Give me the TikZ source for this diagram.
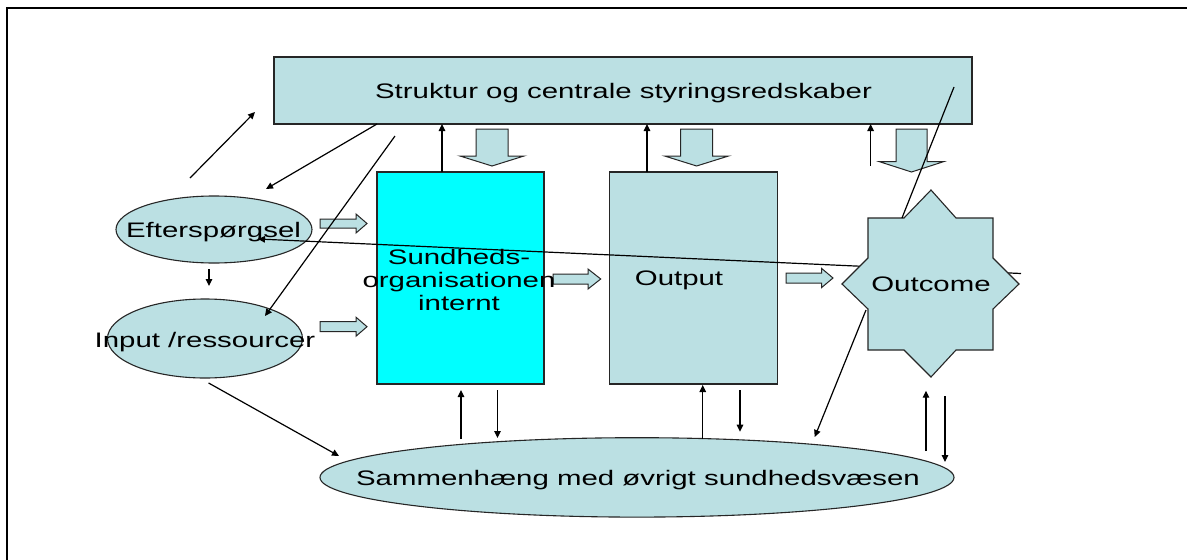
\documentclass[tikz,border=0pt]{standalone}
\usepackage{fontspec}
\setmainfont{Liberation Sans}[FakeStretch=1.4]
\usetikzlibrary{arrows.meta,shapes.geometric}
\definecolor{lb}{HTML}{BBE0E3}
\definecolor{cy}{HTML}{00FFFF}
\newcommand\blkR[6]{\draw[blk] (#1,#4-#5) -- (#2,#4-#5) -- (#2,#4-#6) -- (#3,#4) -- (#2,#4+#6) -- (#2,#4+#5) -- (#1,#4+#5) -- cycle;}
\newcommand\blkD[6]{\draw[blk] (#1-#2,#4) -- (#1+#2,#4) -- (#1+#2,#5) -- (#1+#3,#5) -- (#1,#6) -- (#1-#3,#5) -- (#1-#2,#5) -- cycle;}
\begin{document}
\begin{tikzpicture}[x=1pt,y=-1pt,
  box/.style={draw=black!85,line width=1.1pt,fill=lb,inner sep=0pt},
  ell/.style={ellipse,draw=black!85,line width=1.1pt,fill=lb,inner sep=0pt},
  lbl/.style={inner sep=0pt,font=\fontsize{21}{23}\selectfont,align=center},
  con/.style={line width=1.2pt,-{Triangle[length=7pt,width=6.5pt]}},
  plain/.style={line width=1.2pt},
  blk/.style={draw=black!85,line width=1pt,fill=lb}]
\useasboundingbox (0,0) rectangle (1187,560);
\fill[white] (0,0) rectangle (1187,560);
\draw[line width=2.5pt] (7,575) -- (7,8) -- (1200,8);
% main shapes
\node[box,minimum width=698pt,minimum height=67pt] (top) at (623,90.5) {};
\node[box,fill=cy,minimum width=167pt,minimum height=212pt] (sund) at (460.5,278) {};
\node[box,minimum width=168pt,minimum height=212pt] (out) at (693.5,278) {};
\node[ell,minimum width=196pt,minimum height=67pt] (eft) at (214,229.5) {};
\node[ell,minimum width=195pt,minimum height=79pt] (inp) at (205,338.5) {};
\node[ell,minimum width=634pt,minimum height=79.4pt] (sam) at (637,477.4) {};
% block arrows
\blkR{320}{356}{367}{223.5}{4.5}{9.5}
\blkR{320}{356}{367}{326.7}{5}{9.5}
\blkR{553}{588}{600.7}{279}{5}{10}
\blkR{786}{821.7}{833}{278}{5}{9.5}
\blkD{492}{16}{32}{129}{156}{166}
\blkD{696.6}{16}{32}{129}{156}{166}
\blkD{911.5}{15.5}{32}{129}{161.7}{172}
% coordinates
\coordinate (a1s) at (190,178); \coordinate (a1e) at (255,112);
\coordinate (a2s) at (377,124); \coordinate (a2e) at (266,189);
\coordinate (a3s) at (395,136); \coordinate (a3e) at (265,316);
\coordinate (a4s) at (442,172); \coordinate (a4e) at (442,124);
\coordinate (a5s) at (647,172); \coordinate (a5e) at (647,124);
\coordinate (a6s) at (870.6,166); \coordinate (a6e) at (870.6,124);
\coordinate (a7s) at (954,87); \coordinate (a7e) at (902,218);
\coordinate (a8s) at (1021,273.5); \coordinate (a8e) at (258,239);
\coordinate (a9s) at (209,269); \coordinate (a9e) at (209,286);
\coordinate (a10s) at (208.6,383); \coordinate (a10e) at (339,456);
\coordinate (a11s) at (461,439); \coordinate (a11e) at (461,390);
\coordinate (a12s) at (497.5,390); \coordinate (a12e) at (497.5,438);
\coordinate (a13s) at (702.7,439); \coordinate (a13e) at (702.7,385);
\coordinate (a14s) at (740,390); \coordinate (a14e) at (740,431.7);
\coordinate (a15s) at (866,310); \coordinate (a15e) at (814.7,437);
\coordinate (a16s) at (926,451); \coordinate (a16e) at (926,390.7);
\coordinate (a17s) at (945,396); \coordinate (a17e) at (945,462);
% long line behind the star
\draw[con] (a8s) -- (a8e);
% star
\draw[blk,line width=1.1pt] (931,190) -- (956,218) -- (993,218) -- (993,258) -- (1019,284) -- (993,309) -- (993,350) -- (956,350) -- (931,377) -- (904,350) -- (868,350) -- (868,309) -- (842,284) -- (868,258) -- (868,218) -- (904,218) -- cycle;
% connectors
\draw[con] (a1s) -- (a1e);
\draw[con] (a2s) -- (a2e);
\draw[con] (a3s) -- (a3e);
\draw[con] (a4s) -- (a4e);
\draw[con] (a5s) -- (a5e);
\draw[con] (a6s) -- (a6e);
\draw[plain] (a7s) -- (a7e);
\draw[con] (a9s) -- (a9e);
\draw[con] (a10s) -- (a10e);
\draw[con] (a11s) -- (a11e);
\draw[con] (a12s) -- (a12e);
\draw[con] (a13s) -- (a13e);
\draw[con] (a14s) -- (a14e);
\draw[con] (a15s) -- (a15e);
\draw[con] (a16s) -- (a16e);
\draw[con] (a17s) -- (a17e);
% labels
\node[lbl] (toplbl) at (623.5,93.5) {Struktur og centrale styringsredskaber};
\node[lbl] (sundlbl) at (459,280) {Sundheds-\\organisationen\\internt};
\node[lbl] (outlbl) at (679,280) {Output};
\node[lbl] (outclbl) at (931,284) {Outcome};
\node[lbl] (eftlbl) at (213.5,232) {Efterspørgsel};
\node[lbl] (inplbl) at (205,342) {Input /ressourcer};
\node[lbl] (samlbl) at (638,480) {Sammenhæng med øvrigt sundhedsvæsen};
\end{tikzpicture}
\end{document}
